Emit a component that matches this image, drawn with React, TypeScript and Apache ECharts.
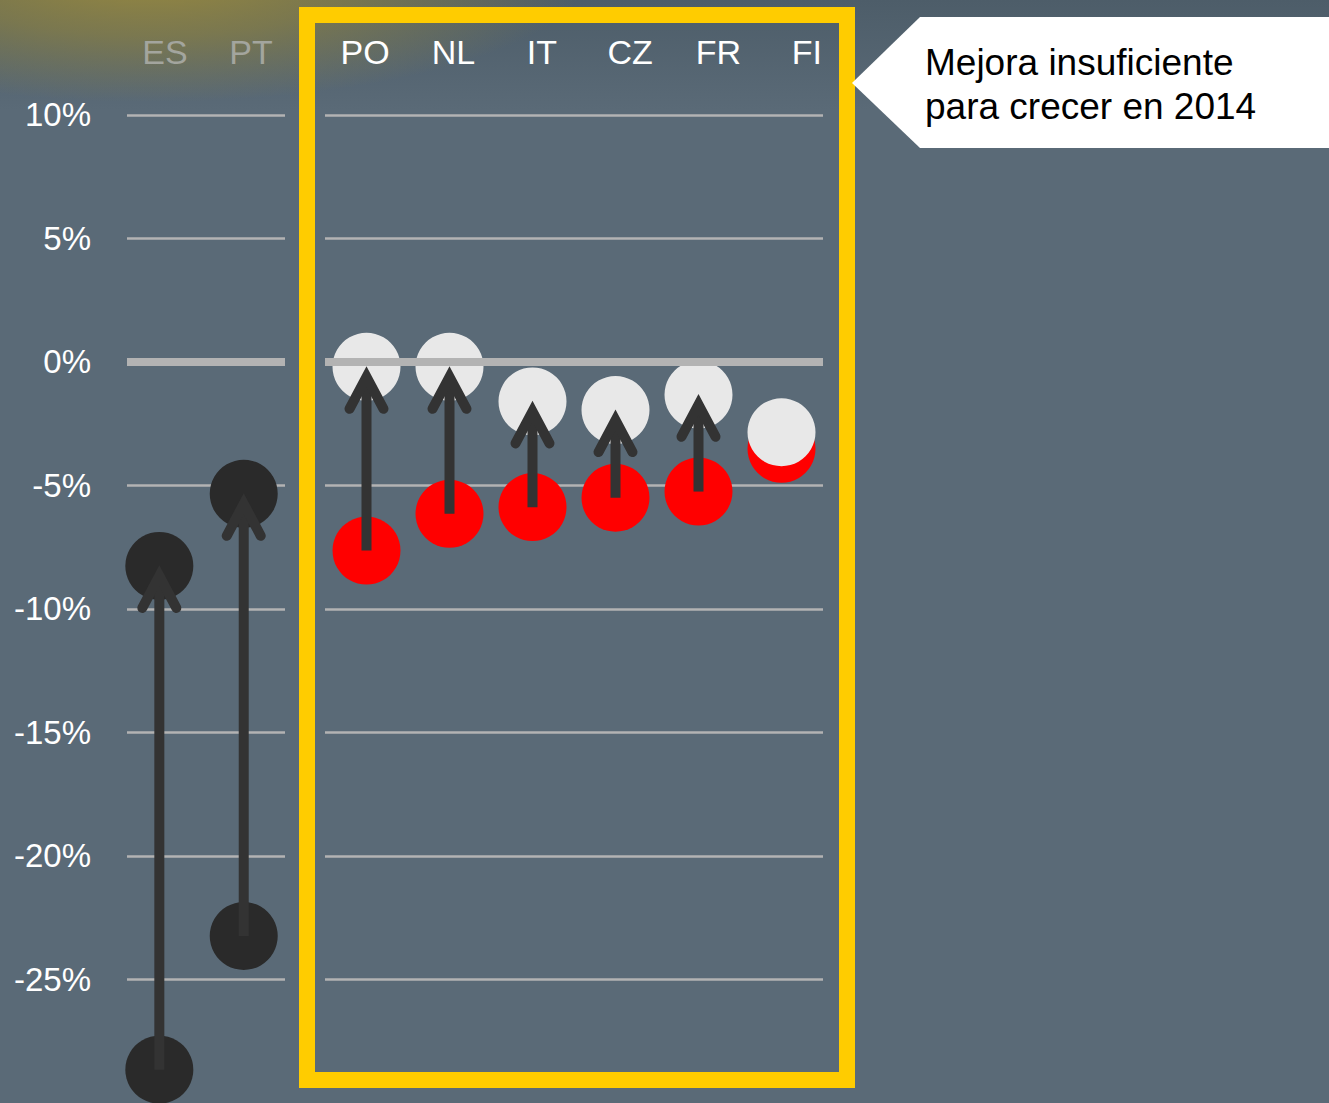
import React, { useEffect, useRef } from 'react';
import * as echarts from 'echarts';

// ---- data ----
const leftCategories = ['ES', 'PT'];
const leftStart = [-28.65, -23.24];
const leftEnd = [-8.26, -5.34];

const rightCategories = ['PO', 'NL', 'IT', 'CZ', 'FR', 'FI'];
const rightStart = [-7.64, -6.15, -5.88, -5.5, -5.25, -3.52];
const rightEnd = [-0.2, -0.2, -1.6, -1.95, -1.33, -2.85];

const yMin = -30;
const yMax = 14;
const yStep = 5;
const yLabelMin = -25;
const yLabelMax = 10;

const calloutLines = ['Mejora insuficiente', 'para crecer en 2014'];

// ---- styles ----
const FONT = '"Liberation Sans", Arial, sans-serif';
const BG = '#5a6a77';
const GRID_LINE = '#b3b3b3';
const DARK = '#2a2a2a';
const RED = '#ff0000';
const LIGHT = '#e8e8e8';
const ARROW = '#333333';
const YELLOW = '#ffcc00';

function arrowRenderer(params: any, api: any) {
  const x = api.value(0);
  const s = api.value(1);
  const e = api.value(2);
  if (e - s < 1) return null;
  const p0 = api.coord([x, s]);
  const p1 = api.coord([x, e]);
  const tipY = p1[1] + 10;
  return {
    type: 'group',
    children: [
      {
        type: 'line',
        shape: { x1: p0[0], y1: p0[1], x2: p1[0], y2: tipY + 4 },
        style: { stroke: ARROW, lineWidth: 10, lineCap: 'butt' },
      },
      {
        type: 'polyline',
        shape: {
          points: [
            [p1[0] - 17, tipY + 32],
            [p1[0], tipY],
            [p1[0] + 17, tipY + 32],
          ],
        },
        style: { stroke: ARROW, lineWidth: 10, lineCap: 'round', lineJoin: 'miter', fill: null },
      },
    ],
  };
}

function yAxisCfg(gridIndex: number, showLabels: boolean) {
  return {
    type: 'value',
    gridIndex,
    min: yMin,
    max: yMax,
    interval: yStep,
    axisLine: { show: false },
    axisTick: { show: false },
    splitLine: {
      show: true,
      showMinLine: false,
      showMaxLine: false,
      lineStyle: { color: GRID_LINE, width: 2.5 },
    },
    axisLabel: {
      show: showLabels,
      showMinLabel: false,
      showMaxLabel: false,
      margin: 36,
      color: '#ffffff',
      fontSize: 33,
      fontFamily: FONT,
      padding: [5, 0, 0, 0],
      formatter: (v: number) => (v >= yLabelMin && v <= yLabelMax ? `${v}%` : ''),
    },
  };
}

function labelAxisCfg(gridIndex: number, data: string[], color: string) {
  return {
    type: 'category',
    gridIndex,
    data,
    position: 'top',
    axisLine: { show: false },
    axisTick: { show: false },
    splitLine: { show: false },
    axisLabel: {
      inside: true,
      margin: 36,
      color,
      fontSize: 34,
      fontFamily: FONT,
      verticalAlign: 'middle',
      interval: 0,
    },
  };
}

const zeroLine = {
  silent: true,
  symbol: 'none',
  label: { show: false },
  lineStyle: { color: GRID_LINE, width: 8, type: 'solid' },
  data: [{ yAxis: 0 }],
};

export default function App() {
  const ref = useRef<HTMLDivElement>(null);

  useEffect(() => {
    document.body.style.margin = '0';
    if (!ref.current) return;
    const chart = echarts.init(ref.current, null, { renderer: 'svg' });

    const option: any = {
      animation: false,
      backgroundColor: BG,
      graphic: [
        {
          type: 'rect',
          z: -20,
          silent: true,
          shape: { x: 0, y: 0, width: 1329, height: 1103 },
          style: {
            fill: new echarts.graphic.LinearGradient(0, 0, 0, 1, [
              { offset: 0, color: '#4d5d69' },
              { offset: 0.1, color: BG },
              { offset: 1, color: BG },
            ]),
          },
        },
        {
          type: 'circle',
          z: -19,
          silent: true,
          x: 150,
          y: -30,
          scaleY: 0.3,
          shape: { cx: 0, cy: 0, r: 440 },
          style: {
            fill: new echarts.graphic.RadialGradient(0.5, 0.5, 0.5, [
              { offset: 0, color: 'rgba(160,142,60,0.95)' },
              { offset: 0.5, color: 'rgba(150,135,60,0.6)' },
              { offset: 1, color: 'rgba(150,135,60,0)' },
            ]),
          },
        },
        {
          type: 'rect',
          z: 1,
          silent: true,
          shape: { x: 307, y: 15, width: 540, height: 1065 },
          style: { stroke: YELLOW, lineWidth: 16, fill: null },
        },
        {
          type: 'polygon',
          z: 1,
          silent: true,
          shape: {
            points: [
              [852, 83],
              [920, 17],
              [1329, 17],
              [1329, 148],
              [920, 148],
            ],
          },
          style: { fill: '#ffffff' },
        },
        {
          type: 'text',
          z: 2,
          silent: true,
          x: 925,
          y: 84,
          style: {
            text: calloutLines.join('\n'),
            fill: '#000000',
            fontSize: 37,
            fontFamily: FONT,
            lineHeight: 44,
            align: 'left',
            verticalAlign: 'middle',
          },
        },
      ],
      grid: [
        { left: 127, width: 158, top: 16, height: 1090 },
        { left: 325, width: 498, top: 16, height: 1090 },
        { left: 122, width: 172, top: 16, height: 1090 },
        { left: 321, width: 530, top: 16, height: 1090 },
      ],
      xAxis: [
        { type: 'value', gridIndex: 0, min: -0.383, max: 1.489, show: false },
        {
          type: 'category',
          gridIndex: 1,
          data: rightCategories,
          show: false,
        },
        labelAxisCfg(2, leftCategories, '#a3a59e'),
        labelAxisCfg(3, rightCategories, '#ffffff'),
      ],
      yAxis: [
        yAxisCfg(0, true),
        yAxisCfg(1, false),
        { type: 'value', gridIndex: 2, min: yMin, max: yMax, show: false, splitLine: { show: false } },
        { type: 'value', gridIndex: 3, min: yMin, max: yMax, show: false, splitLine: { show: false } },
      ],
      series: [
        // left panel
        {
          type: 'scatter',
          xAxisIndex: 0,
          yAxisIndex: 0,
          z: 3,
          symbolSize: 68,
          itemStyle: { color: DARK, opacity: 1 },
          data: leftStart.map((v, i) => [i, v]),
          markLine: zeroLine,
        },
        {
          type: 'scatter',
          xAxisIndex: 0,
          yAxisIndex: 0,
          z: 4,
          symbolSize: 68,
          itemStyle: { color: DARK, opacity: 1 },
          data: leftEnd.map((v, i) => [i, v]),
        },
        {
          type: 'custom',
          xAxisIndex: 0,
          yAxisIndex: 0,
          z: 5,
          renderItem: arrowRenderer,
          encode: { x: 0, y: [1, 2] },
          data: leftStart.map((v, i) => [i, v, leftEnd[i]]),
        },
        // right panel
        {
          type: 'scatter',
          xAxisIndex: 1,
          yAxisIndex: 1,
          z: 3,
          symbolSize: 68,
          itemStyle: { color: RED, opacity: 1 },
          data: rightStart.map((v, i) => [i, v]),
          markLine: zeroLine,
        },
        {
          type: 'scatter',
          xAxisIndex: 1,
          yAxisIndex: 1,
          z: 4,
          symbolSize: 68,
          itemStyle: { color: LIGHT, opacity: 1 },
          data: rightEnd.map((v, i) => [i, v]),
        },
        {
          type: 'custom',
          xAxisIndex: 1,
          yAxisIndex: 1,
          z: 5,
          renderItem: arrowRenderer,
          encode: { x: 0, y: [1, 2] },
          data: rightStart.map((v, i) => [i, v, rightEnd[i]]),
        },
      ],
    };

    chart.setOption(option);
    return () => {
      chart.dispose();
    };
  }, []);

  return <div ref={ref} style={{ width: 1329, height: 1103 }} />;
}
